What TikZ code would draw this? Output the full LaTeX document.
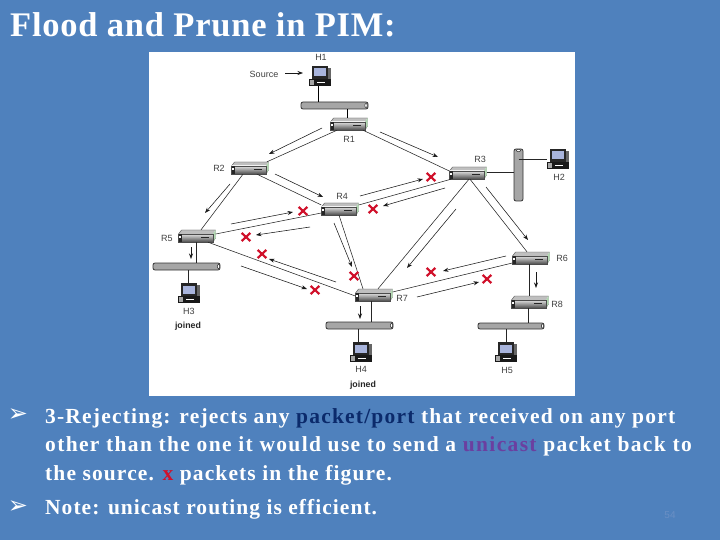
\documentclass[tikz,border=0pt]{standalone}
\usepackage{fontspec}
\setmainfont{Liberation Serif}
\newfontfamily\labelfont{Liberation Sans}
\newfontfamily\arrowfont{DejaVu Sans}
\usetikzlibrary{arrows.meta,shapes.misc}
\definecolor{slidebg}{HTML}{4F81BD}
\definecolor{navytxt}{HTML}{0B2A6B}
\definecolor{purpletxt}{HTML}{6B3FA0}
\definecolor{redtxt}{HTML}{D0102A}
\definecolor{pagenum}{HTML}{6A8FC4}
\definecolor{screenblue}{HTML}{A8B4DC}
\tikzset{
  routerbox/.style={rectangle,minimum width=37pt,minimum height=12pt,inner sep=0pt,draw=none},
  hostbox/.style={rectangle,minimum width=22pt,minimum height=20pt,inner sep=0pt,draw=none},
  bus/.style={rectangle,rounded corners=2pt,draw=black!80,line width=0.8pt,fill=black!35,inner sep=0pt},
  link/.style={draw=black!85,line width=0.55pt},
  thicklink/.style={draw=black,line width=0.9pt},
  flow/.style={draw=black!90,line width=0.55pt,-{Stealth[length=5.5pt,width=4pt]}},
  xmark/.style={cross out,draw=redtxt,line width=2.2pt,minimum width=6.5pt,minimum height=6pt,inner sep=0pt},
  lbl/.style={font=\labelfont\fontsize{9}{10}\selectfont,text=black!75,inner sep=0pt},
  joinedlbl/.style={font=\labelfont\bfseries\fontsize{8.8}{10}\selectfont,text=black!85,inner sep=0pt},
  slideline/.style={anchor=base west,inner sep=0pt,text=white,font=\fontsize{21.5}{25}\selectfont\bfseries\addfontfeature{LetterSpace=#1}},
  bullet/.style={inner sep=0pt,text=white,font=\arrowfont\fontsize{24}{26}\selectfont}
}
\newcommand\routericon[3]{%
  \begin{scope}[shift={(#2,#3)}]
    \fill[black!25] (-15.5,-6) -- (18.5,-6) -- (16,-2) -- (-18.5,-2) -- cycle;
    \draw[black!70,line width=0.4pt] (-18.5,-2) -- (-15.5,-6) -- (18.5,-6) -- (18.5,2) -- (16,6);
    \shade[top color=black!12,middle color=black!22,bottom color=black!70] (-18.5,-2) rectangle (16,6);
    \fill[black!50!green!30!white] (16,-2) -- (18.5,-6) -- (18.5,2) -- (16,6) -- cycle;
    \draw[black!70,line width=0.4pt] (-18.5,-2) rectangle (16,6);
    \fill[black!85] (-18.5,-2) rectangle (-15.5,6);
    \fill[white] (-17.8,0) rectangle (-16.2,2);
    \fill[black!85] (4,1) rectangle (12,1.8);
  \end{scope}%
  \node[routerbox] (#1) at (#2,#3) {};%
}
\newcommand\pcicon[3]{%
  \begin{scope}[shift={(#2,#3)}]
    \fill[black!60] (8,-8) rectangle (11,7);
    \fill[black!85] (-8,-10) rectangle (8,3);
    \fill[screenblue] (-6,-7.5) rectangle (6,0.5);
    \fill[black!90] (-11,3) rectangle (11,10);
    \fill[black!35] (-10,4) rectangle (-6,9);
    \fill[white] (-3,6) rectangle (5,7);
  \end{scope}%
  \node[hostbox] (#1) at (#2,#3) {};%
}
\newcommand\buscap[2]{\draw[black!85,fill=white,line width=0.5pt] (#1,#2) ellipse (1.2pt and 2pt);}
\begin{document}
\begin{tikzpicture}[x=1pt,y=-1pt]
\useasboundingbox (0,0) rectangle (720,540);
\fill[slidebg] (0,0) rectangle (720,540);
\fill[white] (149,52) rectangle (575,396);

\node[anchor=base west,inner sep=0pt,text=white,font=\fontsize{34.5}{38}\selectfont\bfseries\addfontfeature{LetterSpace=2.2}] (title) at (10,37) {Flood and Prune in PIM:};

% routers
\routericon{R1}{349}{124}
\routericon{R2}{250}{168}
\routericon{R3}{468}{173}
\routericon{R4}{340}{209}
\routericon{R5}{197}{236}
\routericon{R6}{531}{258}
\routericon{R7}{374}{295}
\routericon{R8}{530}{302}
% hosts
\pcicon{H1}{320}{76}
\pcicon{H2}{558}{159}
\pcicon{H3}{189}{293}
\pcicon{H4}{361}{352}
\pcicon{H5}{506}{352}
% buses
\node[bus,minimum width=67pt,minimum height=7pt] (busA) at (334.5,105.5) {};
\node[bus,minimum width=9pt,minimum height=52pt] (busB) at (518.5,175) {};
\node[bus,minimum width=67pt,minimum height=7pt] (busC) at (186.5,266.5) {};
\node[bus,minimum width=67pt,minimum height=7pt] (busD) at (359.5,325.5) {};
\node[bus,minimum width=66pt,minimum height=6pt] (busE) at (511,326) {};
\buscap{366}{105.5}
\buscap{218.5}{266.5}
\buscap{391.5}{325.5}
\buscap{542.5}{326}
\draw[black!85,fill=white,line width=0.5pt] (518.5,150.5) ellipse (2pt and 1.2pt);

% bus drops
\draw[thicklink] ([xshift=-2pt]H1.south) -- ([xshift=-16.5pt]busA.north);
\draw[thicklink] ([xshift=12.5pt]busA.south) -- ([xshift=-2pt]R1.north);
\draw[link] ([yshift=1pt]R3.east) -- ([yshift=3pt]busB.west);
\draw[link] ([yshift=16pt]busB.center) -- ([yshift=0pt]H2.west);
\draw[link] ([xshift=-1pt]R5.south) -- ([xshift=9.5pt]busC.north);
\draw[link] ([xshift=1.5pt]busC.south) -- ([xshift=-1pt]H3.north);
\draw[link] ([xshift=-3pt]R7.south) -- ([xshift=11.5pt]busD.north);
\draw[link] ([xshift=-1.5pt]busD.south) -- ([xshift=-3pt]H4.north);
\draw[link] ([xshift=-2pt]R8.south) -- ([xshift=17pt]busE.north);
\draw[link] ([xshift=-5pt]busE.south) -- (H5.north);

% network links
\draw[link] ([xshift=-12pt]R1.south) -- ([xshift=17pt]R2.north);
\draw[link] ([xshift=14pt]R1.south) -- ([yshift=2pt]R3.west);
\draw[link] ([xshift=7pt]R2.south) -- ([yshift=4pt]R4.west);
\draw[link] ([xshift=-7pt]R2.south) -- ([xshift=4pt]R5.north);
\draw[link] ([yshift=-4pt]R4.west) -- ([yshift=2pt]R5.east);
\draw[link] ([yshift=4pt]R4.east) -- ([xshift=-17pt]R3.south);
\draw[link] ([xshift=-1pt]R4.south) -- ([xshift=-11pt]R7.north);
\draw[link] ([xshift=11pt]R5.south) -- ([yshift=-1pt]R7.west);
\draw[link] ([xshift=1pt]R3.south) -- ([xshift=4pt]R7.north);
\draw[link] ([xshift=2pt]R3.south) -- ([xshift=-4pt]R6.north);
\draw[link] ([yshift=3pt]R7.east) -- ([yshift=-5pt]R6.west);
\draw[link] ([xshift=-2pt]R6.south) -- ([xshift=-1pt]R8.north);

% packet-flow arrows
\foreach \n/\a/\b/\c/\d in {
  1/285/73/303/73,
  2/322/128/269/154, 3/380/132/438/157, 4/275/174/323/197, 5/230/184/205/213,
  6/231/224/293/212, 7/310/227/256/235, 8/360/196/423/179, 9/445/188/383/206,
  10/334/223/352/267, 11/336/282/269/259, 12/241/266/307/289, 13/456/209/407/268,
  14/486/187/528/240, 15/506/256/443/271, 16/417/297/479/282, 17/536/272/536/288,
  18/360/306/360/319, 19/191/247/191/259}
{
  \coordinate (f\n s) at (\a,\b);
  \coordinate (f\n e) at (\c,\d);
  \draw[flow] (f\n s) -- (f\n e);
}

% rejected packets
\node[xmark] (x1) at (303,211) {};
\node[xmark] (x2) at (373,209) {};
\node[xmark] (x3) at (431,177) {};
\node[xmark] (x4) at (246,237) {};
\node[xmark] (x5) at (262,254) {};
\node[xmark] (x6) at (315,290) {};
\node[xmark] (x7) at (354,276) {};
\node[xmark] (x8) at (431,272) {};
\node[xmark] (x9) at (487,279) {};

% labels
\node[lbl] (lSource) at (264,74) {Source};
\node[lbl] (lH1) at (321,57) {H1};
\node[lbl] (lR1) at (349,139) {R1};
\node[lbl] (lR2) at (219,168) {R2};
\node[lbl] (lR3) at (480,159) {R3};
\node[lbl] (lR4) at (342,196) {R4};
\node[lbl] (lR5) at (167,238) {R5};
\node[lbl] (lR6) at (562,258) {R6};
\node[lbl] (lR7) at (402,298) {R7};
\node[lbl] (lR8) at (557,304) {R8};
\node[lbl] (lH2) at (559,177) {H2};
\node[lbl] (lH3) at (189,311) {H3};
\node[lbl] (lH4) at (361,369) {H4};
\node[lbl] (lH5) at (507,370) {H5};
\node[joinedlbl] (lJ3) at (188,326) {joined};
\node[joinedlbl] (lJ4) at (363,385) {joined};

% slide text
\node[bullet] (b1) at (18,415) {➢};
\node[bullet] (b2) at (18,507) {➢};
\node[slideline=5.6] (t1) at (45,423) {3-Rejecting: rejects any \textcolor{navytxt}{packet/port} that received on any port};
\node[slideline=6.2] (t2) at (45,451.5) {other than the one it would use to send a \textcolor{purpletxt}{unicast} packet back to};
\node[slideline=5.2] (t3) at (45,480) {the source. \textcolor{redtxt}{x} packets in the figure.};
\node[slideline=4.8] (t4) at (45,514) {Note: unicast routing is efficient.};
\node[inner sep=0pt,text=pagenum,font=\labelfont\fontsize{10}{12}\selectfont] (pg) at (670,515) {54};
\end{tikzpicture}
\end{document}
